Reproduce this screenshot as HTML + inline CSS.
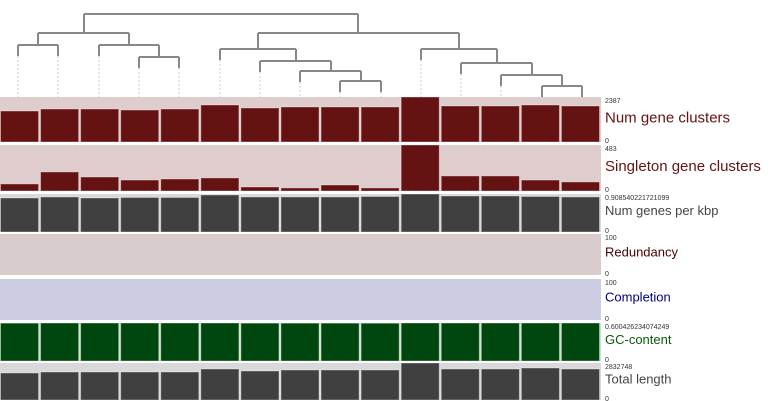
<!DOCTYPE html>
<html><head><meta charset="utf-8"><style>
html,body{margin:0;padding:0;background:#fff;width:772px;height:401px;overflow:hidden}
svg{display:block;font-family:"Liberation Sans",sans-serif}
</style></head><body>
<svg id="chart" width="772" height="401" xmlns="http://www.w3.org/2000/svg"></svg>
<script>
const numGeneClusters=[1644,1750,1750,1697,1750,1963,1803,1857,1857,1857,2387,1910,1910,1963,1910];
const singletonGeneClusters=[74,200,147,115,126,137,42,32,63,32,483,158,158,115,95];
const genesPerKbp=[0.813,0.837,0.813,0.825,0.825,0.885,0.837,0.837,0.837,0.849,0.9085,0.861,0.861,0.849,0.837];
const redundancy=[0,0,0,0,0,0,0,0,0,0,0,0,0,0,0];
const completion=[0,0,0,0,0,0,0,0,0,0,0,0,0,0,0];
const gcContent=[0.598,0.6,0.6,0.6,0.6,0.6,0.598,0.598,0.598,0.597,0.6004,0.6,0.6,0.6,0.6];
const totalLength=[2067000,2143000,2143000,2143000,2143000,2373000,2220000,2297000,2297000,2297000,2832748,2373000,2373000,2450000,2373000];
const layerNames=["Num gene clusters","Singleton gene clusters","Num genes per kbp","Redundancy","Completion","GC-content","Total length"];
const layerMax=["2387","483","0.908540221721099","100","100","0.600426234074249","2832748"];

const svg=document.getElementById('chart');
const NS='http://www.w3.org/2000/svg';
function mk(tag,attrs,parent){const e=document.createElementNS(NS,tag);for(const k in attrs)e.setAttribute(k,attrs[k]);(parent||svg).appendChild(e);return e;}
const N=15, colW=601/N;
const xCol=i=>i*colW;
const layers=[
 {vals:numGeneClusters,max:2387,y0:97,y1:142,bg:'#dfcccc',fg:'#651212',tc:'#651212'},
 {vals:singletonGeneClusters,max:483,y0:145,y1:191,bg:'#dfcccc',fg:'#651212',tc:'#651212'},
 {vals:genesPerKbp,max:0.908540221721099,y0:194,y1:232,bg:'#d9d9d9',fg:'#404040',tc:'#444444'},
 {vals:redundancy,max:100,y0:234,y1:275,bg:'#d9cccc',fg:'#4a0000',tc:'#4a0000'},
 {vals:completion,max:100,y0:279,y1:320,bg:'#cccce3',fg:'#000080',tc:'#000080'},
 {vals:gcContent,max:0.600426234074249,y0:323,y1:361,bg:'#cce0cc',fg:'#00460f',tc:'#0a5a0a'},
 {vals:totalLength,max:2832748,y0:363,y1:400,bg:'#d9d9d9',fg:'#404040',tc:'#444444'}
];
layers.forEach((L,li)=>{
 const g=mk('g',{});
 
 
 const bg=mk('rect',{x:0,y:L.y0,width:601,height:L.y1-L.y0,fill:L.bg},g);
 
 
 const yS=v=>L.y1-(v/L.max)*(L.y1-L.y0);
 L.vals.forEach((v,i)=>{
  if(v<=0)return;
  const r=mk('rect',{x:xCol(i)+0.5,y:yS(v),width:colW-2,height:L.y1-yS(v),fill:L.fg,stroke:'#fff','stroke-opacity':0.35,'stroke-width':1},g);
  
  
 });
 const t1=mk('text',{x:605,y:L.y0+6,'font-size':7,fill:'#333'},g);t1.textContent=layerMax[li];
 
 const t2=mk('text',{x:605,y:L.y0+(L.y1-L.y0)/2+(li<2?3:2),'font-size':(li<2?15:13),fill:L.tc},g);t2.textContent=layerNames[li];
 
 const t3=mk('text',{x:605,y:L.y1+1,'font-size':7,fill:'#333'},g);t3.textContent='0';
 
});
// dendrogram
const tg=mk('g',{stroke:'#888','stroke-width':2,fill:'none'});


const nodes=[[84,358,14],[38,129,33],[18,58,45],[99,159,45],[139,179,57],[258,459,33],[220,296,49],[260,331,61],[300,361,71],[340,381,81],[421,497,49],[461,532,63],[501,562,75],[542,582,86]];
nodes.forEach(n=>{
 const p=mk('path',{d:`M${n[0]} ${n[2]}H${n[1]}`},tg);
 
});
nodes.forEach(n=>{
 [n[0],n[1]].forEach(x=>{
  const child=nodes.find(m=>Math.abs((m[0]+m[1])/2-x)<3&&m[2]>n[2]);
  const yEnd=child?child[2]:Math.min(n[2]+11,97);
  const p=mk('path',{d:`M${x} ${n[2]}V${yEnd}`},tg);
  
  if(!child&&yEnd<97){
   const d=mk('path',{d:`M${x} ${yEnd}V97`,stroke:'#ccc','stroke-width':1,'stroke-dasharray':'2,2'},tg);
   
  }
 });
});
</script>
</body></html>
